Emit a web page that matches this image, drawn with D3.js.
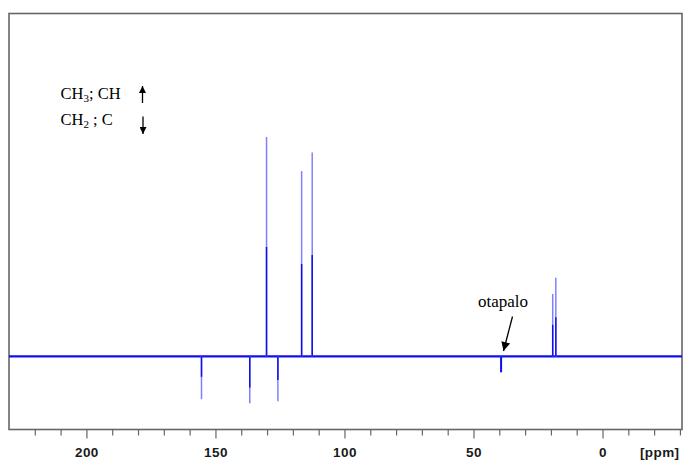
<!DOCTYPE html>
<html>
<head>
<meta charset="utf-8">
<script src="https://cdn.jsdelivr.net/npm/d3@7"></script>
<style>
  body { margin: 0; background: #fff; }
  svg { display: block; }
</style>
</head>
<body>
<div id="chart"></div>
<script>
// peaks: chemical shift (ppm), full height, height of the dense core (arbitrary units)
var shifts   = [155.4, 136.7, 130.2, 125.8, 116.6, 112.5, 39.3, 19.3, 18.1];
var peakTop  = [-19.5, -21.3, 100,   -20.4, 84.5,  93.0,  -7.2, 28.5, 35.9];
var peakCore = [-9.3,  -14.2, 49.9,  -10.7, 42.1,  46.2,  -7.2, 14.4, 17.9];

var majorTicks = [200, 150, 100, 50, 0];
var minorTicks = [220, 210, 190, 180, 170, 160, 140, 130, 120, 110, 90, 80, 70, 60, 40, 30, 20, 10, -10, -20, -30];

var W = 683, H = 464;
var frame = { left: 9, right: 682, top: 13.5, bottom: 429.5 };

var svg = d3.select("#chart")
    .append("svg")
    .attr("width", W)
    .attr("height", H);

// scales
var x = d3.scaleLinear().domain([230, -30.8]).range([frame.left, frame.right]);
var y = d3.scaleLinear().domain([-33.3, 156.3]).range([frame.bottom, frame.top]);

// frame
svg.append("rect")
    .attr("x", frame.left)
    .attr("y", frame.top)
    .attr("width", frame.right - frame.left)
    .attr("height", frame.bottom - frame.top)
    .attr("fill", "none")
    .attr("stroke", "#666")
    .attr("stroke-width", 1.6);

// minor ticks
var minorAxis = svg.append("g")
    .attr("transform", "translate(0," + frame.bottom + ")")
    .call(d3.axisBottom(x).tickValues(minorTicks).tickSize(6).tickFormat(""));
minorAxis.select(".domain").remove();
minorAxis.selectAll("line").attr("stroke", "#666").attr("stroke-width", 1.2);

// major ticks + labels
var majorAxis = svg.append("g")
    .attr("transform", "translate(0," + frame.bottom + ")")
    .call(d3.axisBottom(x).tickValues(majorTicks).tickSize(9).tickPadding(8.5).tickFormat(d3.format("d")));
majorAxis.select(".domain").remove();
majorAxis.selectAll("line").attr("stroke", "#666").attr("stroke-width", 1.2);
majorAxis.selectAll("text")
    .attr("fill", "#1a1a1a")
    .attr("font-family", "Liberation Sans, Arial, sans-serif")
    .attr("font-weight", "bold")
    .attr("font-size", "13.5px")
    .attr("letter-spacing", "0.4px");

// unit label
svg.append("text")
    .attr("x", x(-14.5))
    .attr("y", 456.5)
    .attr("fill", "#1a1a1a")
    .attr("font-family", "Liberation Sans, Arial, sans-serif")
    .attr("font-weight", "bold")
    .attr("font-size", "13.5px")
    .attr("letter-spacing", "0.4px")
    .text("[ppm]");

// baseline
svg.append("path")
    .datum([230, -30.8])
    .attr("d", d3.line().x(function (d) { return x(d); }).y(function () { return y(0); }))
    .attr("stroke", "#1010ee")
    .attr("stroke-width", 2.2)
    .attr("fill", "none");

// peaks: light full line then dark core
var peaks = shifts.map(function (s, i) { return { ppm: s, top: peakTop[i], core: peakCore[i] }; });

svg.selectAll(".peak-full")
    .data(peaks)
    .enter()
    .append("line")
    .attr("class", "peak-full")
    .attr("x1", function (d) { return x(d.ppm); })
    .attr("x2", function (d) { return x(d.ppm); })
    .attr("y1", y(0))
    .attr("y2", function (d) { return y(d.top); })
    .attr("stroke", "#8080ff")
    .attr("stroke-width", 1.5);

svg.selectAll(".peak-core")
    .data(peaks)
    .enter()
    .append("line")
    .attr("class", "peak-core")
    .attr("x1", function (d) { return x(d.ppm); })
    .attr("x2", function (d) { return x(d.ppm); })
    .attr("y1", y(0))
    .attr("y2", function (d) { return y(d.core); })
    .attr("stroke", "#1010e8")
    .attr("stroke-width", function (d) { return d.ppm > 30 && d.ppm < 50 ? 2 : 1.5; });

// arrow markers
var defs = svg.append("defs");
defs.append("marker")
    .attr("id", "head")
    .attr("viewBox", "0 0 10 10")
    .attr("refX", 10)
    .attr("refY", 5)
    .attr("markerUnits", "userSpaceOnUse")
    .attr("markerWidth", 8)
    .attr("markerHeight", 7)
    .attr("orient", "auto")
    .append("path")
    .attr("d", "M0,0 L10,5 L0,10 Z")
    .attr("fill", "#000");

defs.append("marker")
    .attr("id", "bighead")
    .attr("viewBox", "0 0 10 10")
    .attr("refX", 10)
    .attr("refY", 5)
    .attr("markerUnits", "userSpaceOnUse")
    .attr("markerWidth", 13)
    .attr("markerHeight", 9)
    .attr("orient", "auto")
    .append("path")
    .attr("d", "M0,0 L10,5 L0,10 Z")
    .attr("fill", "#000");

// legend
var serif = "Liberation Serif, Times New Roman, serif";
var l1 = svg.append("text")
    .attr("x", 60.5).attr("y", 99.3)
    .attr("font-family", serif).attr("font-size", "16.5px").attr("fill", "#000");
l1.append("tspan").text("CH");
l1.append("tspan").attr("font-size", "11px").attr("dy", 2.5).text("3");
l1.append("tspan").attr("dy", -2.5).text("; CH");

var l2 = svg.append("text")
    .attr("x", 60.5).attr("y", 125.3)
    .attr("font-family", serif).attr("font-size", "16.5px").attr("fill", "#000");
l2.append("tspan").text("CH");
l2.append("tspan").attr("font-size", "11px").attr("dy", 2.5).text("2");
l2.append("tspan").attr("dy", -2.5).text(" ; C");

svg.append("line")
    .attr("x1", 142.5).attr("y1", 103).attr("x2", 142.5).attr("y2", 86)
    .attr("stroke", "#000").attr("stroke-width", 1.3)
    .attr("marker-end", "url(#head)");
svg.append("line")
    .attr("x1", 143).attr("y1", 116.5).attr("x2", 143).attr("y2", 134)
    .attr("stroke", "#000").attr("stroke-width", 1.3)
    .attr("marker-end", "url(#head)");

// solvent annotation
svg.append("text")
    .attr("x", 478)
    .attr("y", 307)
    .attr("font-family", serif)
    .attr("font-size", "17px")
    .attr("fill", "#000")
    .text("otapalo");

svg.append("line")
    .attr("x1", 512.5).attr("y1", 316.5).attr("x2", 503.5).attr("y2", 351)
    .attr("stroke", "#000").attr("stroke-width", 1.3)
    .attr("marker-end", "url(#bighead)");
</script>
</body>
</html>
